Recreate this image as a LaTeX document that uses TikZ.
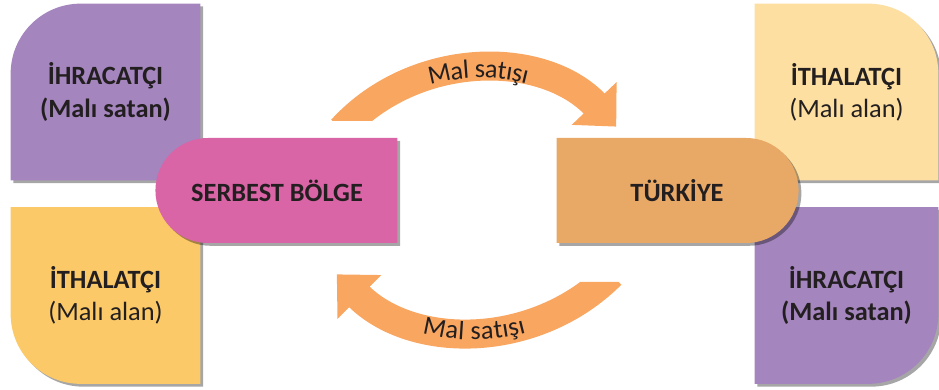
\documentclass[tikz,border=0pt]{standalone}
\usepackage{fontspec}
\setmainfont{Carlito}
\usetikzlibrary{positioning,arrows.meta,shapes.misc,shadows,backgrounds,decorations.text}
\definecolor{ink}{HTML}{231F20}
\definecolor{lilac}{HTML}{A485BE}
\definecolor{sun}{HTML}{FBC967}
\definecolor{cream}{HTML}{FDDFA2}
\definecolor{rose}{HTML}{D964A6}
\definecolor{clay}{HTML}{E8A866}
\definecolor{flowor}{HTML}{F8A660}

\begin{document}
\begin{tikzpicture}[font=\fontsize{15}{18.3}\selectfont, text=ink,
  box/.style={minimum width=3.78cm, minimum height=3.52cm, align=center, inner sep=0pt},
  boxshadow/.style={drop shadow={shadow xshift=1.6pt, shadow yshift=-1.6pt, opacity=0.35, fill=black}},
  hub/.style={rounded rectangle, minimum width=4.84cm, minimum height=2.1cm, inner sep=0pt,
              font=\fontsize{15}{18.3}\selectfont\bfseries, boxshadow},
  flow/.style={draw=flowor, line width=5.8mm},
  flowtext/.style={decorate, decoration={text along path, text align=center, raise=-5pt, text color=ink}},
]
\useasboundingbox (0,0) rectangle (18.78,7.8);
% side boxes
\node[box] (ex1) at (2.11,5.96) {\textbf{İHRACATÇI}\\\textbf{(Malı satan)}};
\node[box] (im1) at (2.11,1.89) {\textbf{İTHALATÇI}\\(Malı alan)};
\node[box, minimum width=3.66cm] (im2) at (16.93,5.96) {\textbf{İTHALATÇI}\\(Malı alan)};
\node[box, minimum width=3.66cm] (ex2) at (16.93,1.89) {\textbf{İHRACATÇI}\\\textbf{(Malı satan)}};
\begin{scope}[on background layer]
\fill[lilac, boxshadow] (ex1.south east) -- (ex1.south west) -- ([yshift=-1.4cm]ex1.north west)
  arc[start angle=180, end angle=90, radius=1.4cm] -- (ex1.north east) -- cycle;
\fill[sun, boxshadow] (im1.north west) -- (im1.north east) -- (im1.south east) -- ([xshift=1.4cm]im1.south west)
  arc[start angle=270, end angle=180, radius=1.4cm] -- cycle;
\fill[cream, boxshadow] (im2.south west) -- (im2.north west) -- ([xshift=-1.4cm]im2.north east)
  arc[start angle=90, end angle=0, radius=1.4cm] -- (im2.south east) -- cycle;
\fill[lilac, boxshadow] (ex2.north west) -- (ex2.north east) -- ([yshift=1.4cm]ex2.south east)
  arc[start angle=0, end angle=-90, radius=1.4cm] -- (ex2.south west) -- cycle;
\end{scope}
% the two hubs
\node[hub, rounded rectangle right arc=none, fill=rose] (fz) at (5.54,3.99) {SERBEST BÖLGE};
\node[hub, rounded rectangle left arc=none, fill=clay] (tr) at (13.54,3.99) {TÜRKİYE};
% sales, top
\begin{scope}
\clip (0,5.38) -- (9.4,5.38) -- (9.4,0) -- (18.78,0) -- (18.78,7.8) -- (0,7.8) -- cycle;
\draw[flow, -{Triangle[width=12mm,length=6.4mm]}]
  ([xshift=-1.12cm,yshift=0.16cm]fz.north east) to[bend left=47] ([xshift=1.2cm,yshift=0.22cm]tr.north west);
\path[flowtext, decoration={text={|\fontsize{15}{18}\selectfont|Mal satışı}}]
  ([xshift=-1.12cm,yshift=0.16cm]fz.north east) to[bend left=47] ([xshift=1.2cm,yshift=0.22cm]tr.north west);
\end{scope}
% sales, bottom
\begin{scope}
\clip (0,0) -- (18.78,0) -- (18.78,2.16) -- (9.4,2.16) -- (9.4,7.8) -- (0,7.8) -- cycle;
\draw[flow, {Triangle[width=12mm,length=6.4mm]}-]
  ([xshift=-1.22cm,yshift=-0.62cm]fz.south east) to[bend right=45] ([xshift=1.1cm,yshift=-0.62cm]tr.south west);
\path[flowtext, decoration={text={|\fontsize{15}{18}\selectfont|Mal satışı}}]
  ([xshift=-1.22cm,yshift=-0.62cm]fz.south east) to[bend right=45] ([xshift=1.1cm,yshift=-0.62cm]tr.south west);
\end{scope}
\end{tikzpicture}
\end{document}
